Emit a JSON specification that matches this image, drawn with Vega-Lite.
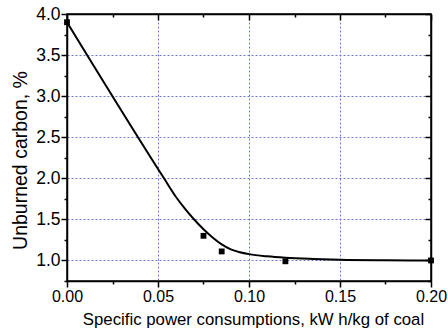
{
  "$schema": "https://vega.github.io/schema/vega-lite/v6.json",
  "width": 364,
  "height": 267,
  "autosize": {"type": "none"},
  "padding": {"left": 67, "top": 14, "right": 17, "bottom": 51},
  "background": "white",
  "config": {
    "view": {"stroke": "black", "strokeWidth": 1.5},
    "font": "Liberation Sans",
    "axis": {
      "domainColor": "black",
      "domainWidth": 1.5,
      "ticks": true,
      "tickColor": "black",
      "tickWidth": 1.5,
      "labelColor": "black",
      "titleColor": "black",
      "labelFontSize": 16,
      "titleFontSize": 16.8,
      "titleFontWeight": "normal",
      "labelFlush": false,
      "labelOverlap": false
    }
  },
  "datasets": {
    "pts": [
      {"x": 0.0, "y": 3.9},
      {"x": 0.075, "y": 1.3},
      {"x": 0.085, "y": 1.11},
      {"x": 0.12, "y": 0.99},
      {"x": 0.2, "y": 1.0}
    ],
    "curve": [
      {"x": 0.0, "y": 3.9},
      {"x": 0.0533, "y": 2.0},
      {"x": 0.06, "y": 1.77},
      {"x": 0.065, "y": 1.625},
      {"x": 0.07, "y": 1.495},
      {"x": 0.075, "y": 1.38},
      {"x": 0.08, "y": 1.28},
      {"x": 0.085, "y": 1.195},
      {"x": 0.09, "y": 1.135},
      {"x": 0.095, "y": 1.1},
      {"x": 0.1, "y": 1.077},
      {"x": 0.11, "y": 1.05},
      {"x": 0.12, "y": 1.033},
      {"x": 0.135, "y": 1.018},
      {"x": 0.15, "y": 1.008},
      {"x": 0.175, "y": 1.002},
      {"x": 0.2, "y": 1.0}
    ]
  },
  "layer": [
    {
      "data": {"name": "curve"},
      "mark": {"type": "line", "color": "black", "strokeWidth": 2, "interpolate": "monotone", "clip": false},
      "encoding": {
        "x": {
          "field": "x", "type": "quantitative",
          "scale": {"domain": [0, 0.2], "nice": false, "zero": false},
          "title": "Specific power consumptions, kW h/kg of coal",
          "axis": {
            "orient": "bottom",
            "values": [0, 0.025, 0.05, 0.075, 0.1, 0.125, 0.15, 0.175, 0.2],
            "format": ".2f",
            "labelExpr": "round(datum.value*1000)%50===0 ? datum.label : ''",
            "tickSize": {"condition": {"test": "round(datum.value*1000)%50===0", "value": 6}, "value": 3},
            "labelPadding": 1,
            "titlePadding": 7,
            "titleX": 186,
            "grid": true,
            "gridColor": {"condition": {"test": "round(datum.value*1000)%50===0 && datum.value>0.001 && datum.value<0.199", "value": "#6f78d6"}, "value": "transparent"},
            "gridDash": [2, 2],
            "gridWidth": 1
          }
        },
        "y": {
          "field": "y", "type": "quantitative",
          "scale": {"domain": [0.75, 4.0], "nice": false, "zero": false},
          "title": "Unburned carbon, %",
          "axis": {
            "orient": "left",
            "values": [0.75, 1.0, 1.25, 1.5, 1.75, 2.0, 2.25, 2.5, 2.75, 3.0, 3.25, 3.5, 3.75, 4.0],
            "format": ".1f",
            "labelExpr": "round(datum.value*100)%50===0 ? datum.label : ''",
            "labelFontSize": 17.5,
            "titleFontSize": 19.5,
            "tickSize": {"condition": {"test": "round(datum.value*100)%50===0", "value": 6}, "value": 3},
            "labelPadding": 1,
            "titlePadding": 5,
            "titleY": 146,
            "grid": true,
            "gridColor": {"condition": {"test": "round(datum.value*100)%50===0 && datum.value<3.99", "value": "#6f78d6"}, "value": "transparent"},
            "gridDash": [2, 2],
            "gridWidth": 1
          }
        }
      }
    },
    {
      "data": {"name": "pts"},
      "mark": {"type": "point", "shape": "square", "filled": true, "color": "black", "opacity": 1, "size": 34, "clip": false},
      "encoding": {
        "x": {
          "field": "x", "type": "quantitative",
          "scale": {"domain": [0, 0.2], "nice": false, "zero": false},
          "axis": {
            "orient": "top",
            "title": null,
            "labels": false,
            "grid": false,
            "values": [0, 0.025, 0.05, 0.075, 0.1, 0.125, 0.15, 0.175, 0.2],
            "tickSize": {"condition": {"test": "round(datum.value*1000)%50===0", "value": -6}, "value": -3}
          }
        },
        "y": {
          "field": "y", "type": "quantitative",
          "scale": {"domain": [0.75, 4.0], "nice": false, "zero": false},
          "axis": {
            "orient": "right",
            "title": null,
            "labels": false,
            "grid": false,
            "values": [0.75, 1.0, 1.25, 1.5, 1.75, 2.0, 2.25, 2.5, 2.75, 3.0, 3.25, 3.5, 3.75, 4.0],
            "tickSize": {"condition": {"test": "round(datum.value*100)%50===0", "value": -6}, "value": -3}
          }
        }
      }
    }
  ],
  "resolve": {"axis": {"x": "independent", "y": "independent"}}
}
